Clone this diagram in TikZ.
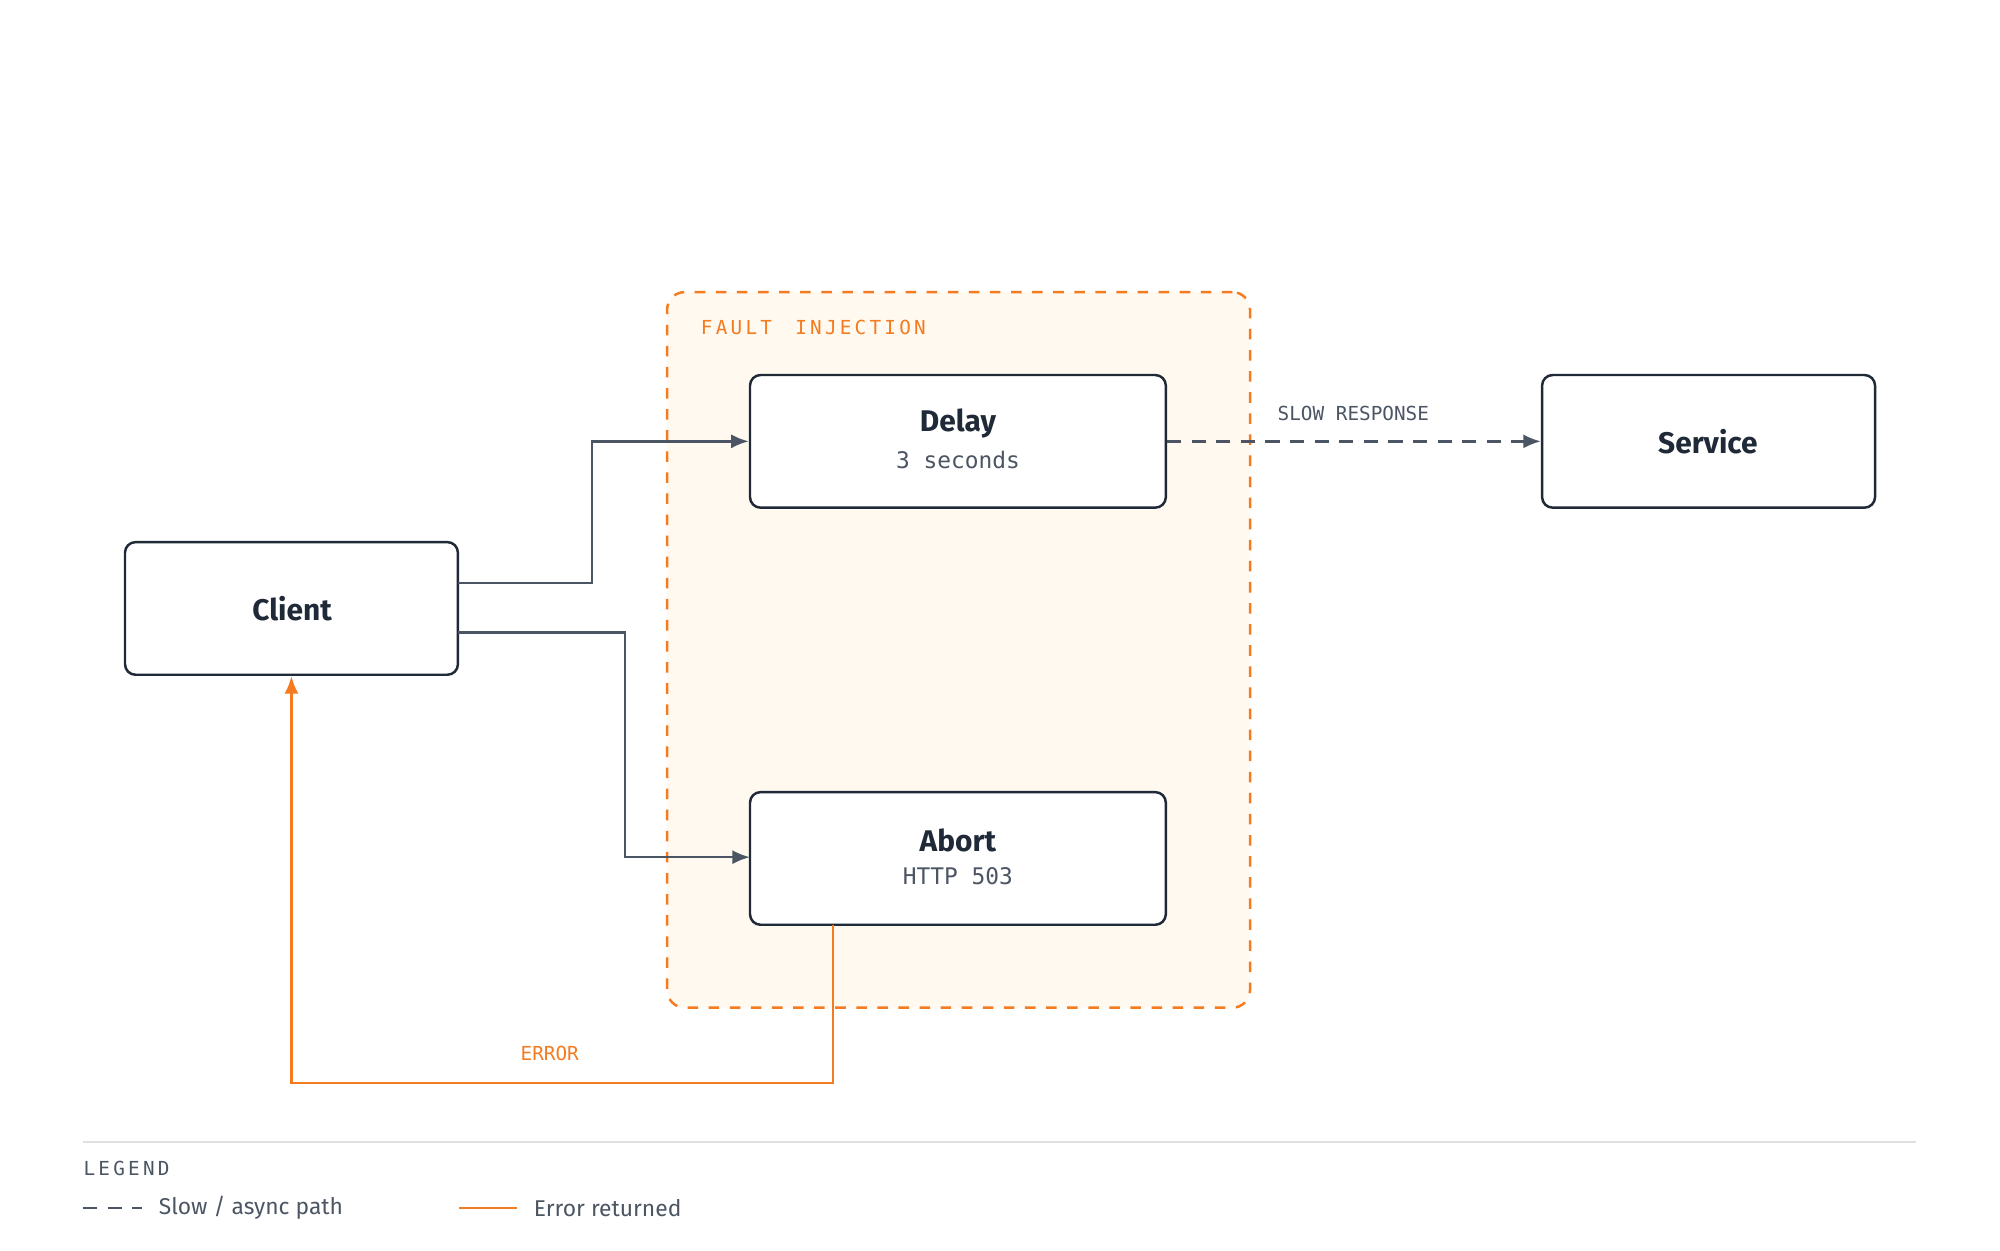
\documentclass[tikz,border=0pt]{standalone}
\usepackage{fontspec}
\setmainfont{Fira Sans}
\newfontfamily\monof{DejaVu Sans Mono}
\usetikzlibrary{arrows.meta,fit}
\definecolor{ink}{HTML}{1F2937}
\definecolor{gline}{HTML}{4B5563}
\definecolor{org}{HTML}{F47B20}
\definecolor{orgfill}{HTML}{FFF9F0}
\begin{document}
\begin{tikzpicture}[x=0.012755cm,y=-0.012755cm,
  box/.style={draw=ink,line width=0.7pt,rounded corners=3pt,fill=white,inner sep=0pt},
  ttl/.style={font=\fontsize{8.5}{10}\selectfont\bfseries,text=ink},
  sub/.style={font=\monof\fontsize{6.5}{8}\selectfont,text=gline},
  lab/.style={font=\monof\fontsize{5.5}{7}\selectfont},
  conn/.style={draw=gline,line width=0.7pt,-{Latex[length=5pt,width=4pt]}},
  err/.style={draw=org,line width=0.8pt,-{Latex[length=5pt,width=4pt]}}]
\useasboundingbox (0,0) rectangle (1568,980);
\node[draw=org,dashed,line width=0.7pt,fill=orgfill,rounded corners=5pt,inner sep=0pt,fit={(523,229)(980,790)}] (fi) {};
\node[lab,text=org,anchor=west,inner sep=0] (fil) at (549,257) {F\,A\,U\,L\,T\ \ I\,N\,J\,E\,C\,T\,I\,O\,N};
\node[box,fit={(588,294)(914,398)}] (delay) {};
\node[ttl] (dt) at (751,332) {Delay};
\node[sub] (ds) at (751,361) {3 seconds};
\node[box,fit={(588,621)(914,725)}] (abort) {};
\node[ttl] (at) at (751,659) {Abort};
\node[sub] (as) at (751,687) {HTTP 503};
\node[box,fit={(98,425)(359,529)}] (client) {};
\node[ttl] at (229,477) {Client};
\node[box,fit={(1209,294)(1470,398)}] (service) {};
\node[ttl] at (1339,346) {Service};
\coordinate (c1) at (359,457);
\coordinate (c2) at (359,496);
\draw[conn] (c1) -| (464,346) -- (delay.west);
\draw[conn] (c2) -| (490,672) -- (588,672);
\draw[conn,dash pattern=on 4pt off 3pt] (delay.east) -- (service.west);
\node[lab,text=gline] at (1061,324) {SLOW RESPONSE};
\coordinate (a1) at (653,725);
\draw[err] (a1) -- (653,849) -| (client.south);
\node[lab,text=org] at (431,826) {ERROR};
\draw[draw=black!12,line width=0.6pt] (65,895) -- (1502,895);
\node[lab,text=gline,anchor=west,inner sep=0] at (65,916) {L\,E\,G\,E\,N\,D};
\draw[gline,line width=0.7pt,dash pattern=on 4pt off 3pt] (65,947) -- (111,947);
\node[anchor=west,inner sep=0,text=gline,font=\fontsize{6.5}{8}\selectfont] at (124,947) {Slow / async path};
\draw[org,line width=0.8pt] (360,947) -- (405,947);
\node[anchor=west,inner sep=0,text=gline,font=\fontsize{6.5}{8}\selectfont] at (418,947) {Error returned};
\end{tikzpicture}
\end{document}
